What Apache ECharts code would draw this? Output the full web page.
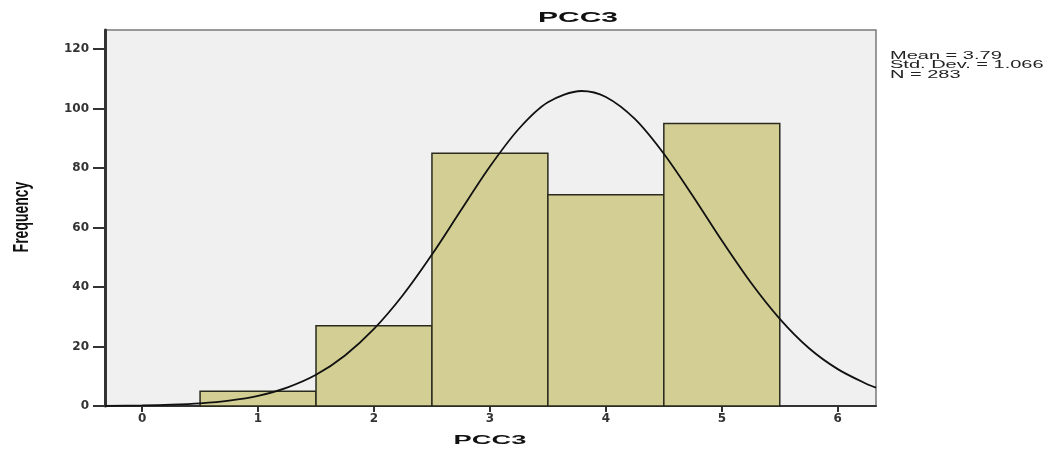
<!DOCTYPE html>
<html><head><meta charset="utf-8">
<script src="https://cdn.jsdelivr.net/npm/echarts@6/dist/echarts.min.js"></script>
<style>html,body{margin:0;padding:0;background:#fff}#c{width:1054px;height:451px}</style>
</head><body><div id="c"></div>
<script>
const binStarts = [0.5, 1.5, 2.5, 3.5, 4.5];
const binEnds = [1.5, 2.5, 3.5, 4.5, 5.5];
const frequencies = [5, 27, 85, 71, 95];
const curveX = [-0.32, 0, 0.25, 0.5, 0.75, 1.0, 1.25, 1.5, 1.75, 2.0, 2.25, 2.5, 2.75, 3.0, 3.25, 3.5, 3.79, 4.0, 4.25, 4.5, 4.75, 5.0, 5.25, 5.5, 5.75, 6.0, 6.25, 6.33];
const curveY = [0.06, 0.19, 0.43, 0.9, 1.8, 3.4, 6.2, 10.5, 17.0, 25.9, 37.3, 50.9, 65.8, 80.5, 93.2, 102.1, 105.9, 103.9, 96.5, 84.8, 70.6, 55.6, 41.5, 29.3, 19.5, 12.4, 7.4, 6.2];
const xTicks = [0, 1, 2, 3, 4, 5, 6];
const yTicks = [0, 20, 40, 60, 80, 100, 120];
const titleText = 'PCC3';
const xName = 'PCC3';
const yName = 'Frequency';
const statsText = ['Mean = 3.79', 'Std. Dev. = 1.066', 'N = 283'];

const chart = echarts.init(document.getElementById('c'));
const font = 'Liberation Sans, Arial, sans-serif';
const tickFont = 'DejaVu Sans, sans-serif';
chart.setOption({
  animation: false,
  backgroundColor: '#fff',
  grid: {left: 105, right: 178, top: 30, bottom: 45, show: true, containLabel: false, outerBoundsMode: 'none',
    backgroundColor: '#f0f0f0', borderColor: '#7a7a7a', borderWidth: 1.5},
  xAxis: {type: 'value', min: -0.32, max: 6.33,
    axisLine: {show: true, onZero: false, lineStyle: {color: '#333', width: 2}},
    axisTick: {show: true, customValues: xTicks, length: 6, lineStyle: {color: '#333', width: 2}},
    axisLabel: {customValues: xTicks, fontFamily: tickFont, fontWeight: 'bold', fontSize: 12, color: '#333', margin: 7},
    splitLine: {show: false}},
  yAxis: {type: 'value', min: 0, max: 126.4,
    axisLine: {show: true, onZero: false, lineStyle: {color: '#333', width: 3}},
    axisTick: {show: true, customValues: yTicks, length: 12, lineStyle: {color: '#333', width: 2}},
    axisLabel: {customValues: yTicks, fontFamily: tickFont, fontWeight: 'bold', fontSize: 12, color: '#333', margin: 16},
    splitLine: {show: false}},
  graphic: [
    {type: 'text', x: 578, y: 18, scaleX: 2, z: 10,
      style: {text: titleText, font: 'bold 15px ' + font, fill: '#111', align: 'center', verticalAlign: 'middle'}},
    {type: 'text', x: 490, y: 440, scaleX: 2.1, z: 10,
      style: {text: xName, font: 'bold 13px ' + font, fill: '#111', align: 'center', verticalAlign: 'middle'}},
    {type: 'text', x: 22, y: 217, rotation: Math.PI / 2, scaleY: 1.6, z: 10,
      style: {text: yName, font: 'bold 14px ' + font, fill: '#111', align: 'center', verticalAlign: 'middle'}},
    {type: 'text', x: 890, y: 51, scaleX: 2, z: 10,
      style: {text: statsText.join('\n'), font: '10px ' + font, lineHeight: 9.5, fill: '#222'}}
  ],
  series: [
    {type: 'custom', data: frequencies.map((f, i) => [binStarts[i], binEnds[i], f]),
      renderItem: function (params, api) {
        const p0 = api.coord([api.value(0), api.value(2)]);
        const p1 = api.coord([api.value(1), 0]);
        return {type: 'rect', shape: {x: p0[0], y: p0[1], width: p1[0] - p0[0], height: p1[1] - p0[1]},
          style: {fill: '#d3cf94', stroke: '#2a2a1e', lineWidth: 1.5}};
      }, z: 2},
    {type: 'line', data: curveX.map((x, i) => [x, curveY[i]]), smooth: 0.3, showSymbol: false,
      lineStyle: {color: '#111', width: 1.8}, clip: true, z: 3}
  ]
});
</script></body></html>
